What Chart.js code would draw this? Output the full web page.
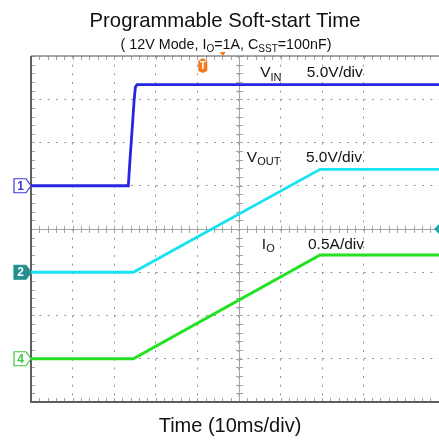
<!DOCTYPE html>
<html>
<head>
<meta charset="utf-8">
<script src="https://cdn.jsdelivr.net/npm/chart.js@4.4.0/dist/chart.umd.min.js"></script>
<style>
  html, body { margin: 0; padding: 0; background: #fff; }
  #wrap { width: 439px; height: 440px; }
</style>
</head>
<body>
<div id="wrap"><canvas id="scope" width="439" height="440"></canvas></div>
<script>
// time in ms, 10 ms/div; the screen shot is cut at ~9.8 div
const timeMax = 98.1;

// CH1 - VIN (V)
const vinTime = [0, 23.4, 23.8, 24.3, 24.8, 25.1, 25.5, 98.1];
const vinVolts = [0, 0, 3.0, 6.4, 9.9, 11.4, 11.7, 11.7];

// CH2 - VOUT (V)
const voutTime = [0, 24.6, 69.5, 98.1];
const voutVolts = [0, 0, 11.9, 11.9];

// CH4 - IO (A)
const ioTime = [0, 24.6, 69.5, 98.1];
const ioAmps = [0, 0, 1.2, 1.2];

// per channel: units per div and ground level (div from centre)
const chNames = ['1', '2', '4'];
const chScale = [5.0, 5.0, 0.5];
const chOffset = [1, -1, -3];
const chColor = ['#2626e4', '#18e2f2', '#22e022'];

const trigTime = 41.3;   // orange T marker
const trigLevel = 0;     // cyan marker on right edge (div)

function toDiv(times, vals, ch) {
  return times.map((t, i) => ({ x: t, y: chOffset[ch] + vals[i] / chScale[ch] }));
}

// text with subscripts: parts = [[text, isSub], ...]
function drawParts(ctx, parts, x, y, size, align) {
  const big = size + 'px "Liberation Sans", Arial, sans-serif';
  const small = Math.round(size * 0.72) + 'px "Liberation Sans", Arial, sans-serif';
  let w = 0;
  parts.forEach(p => { ctx.font = p[1] ? small : big; w += ctx.measureText(p[0]).width; });
  let cx = align === 'center' ? x - w / 2 : x;
  ctx.textAlign = 'left';
  ctx.textBaseline = 'alphabetic';
  parts.forEach(p => {
    ctx.font = p[1] ? small : big;
    ctx.fillText(p[0], cx, p[1] ? y + size * 0.22 : y);
    cx += ctx.measureText(p[0]).width;
  });
}

const scopePlugin = {
  id: 'scope',
  beforeDatasetsDraw(chart) {
    const { ctx, chartArea: a, scales: { x, y } } = chart;
    const cx = x.getPixelForValue(50);
    const cy = y.getPixelForValue(0);
    ctx.save();
    // centre cross
    ctx.strokeStyle = '#a4a4a4';
    ctx.lineWidth = 1;
    ctx.beginPath();
    ctx.moveTo(a.left, Math.round(cy) + 0.5); ctx.lineTo(a.right, Math.round(cy) + 0.5);
    ctx.moveTo(Math.round(cx) + 0.5, a.top); ctx.lineTo(Math.round(cx) + 0.5, a.bottom);
    for (let t = 0; t <= timeMax; t += 2) {
      const px = Math.round(x.getPixelForValue(t)) + 0.5;
      ctx.moveTo(px, cy - 3); ctx.lineTo(px, cy + 4);
      ctx.moveTo(px, a.bottom); ctx.lineTo(px, a.bottom - 4);
      ctx.moveTo(px, a.top); ctx.lineTo(px, a.top + 4);
    }
    for (let d = -4; d <= 4.001; d += 0.2) {
      const py = Math.round(y.getPixelForValue(d)) + 0.5;
      ctx.moveTo(cx - 3, py); ctx.lineTo(cx + 4, py);
      ctx.moveTo(a.left, py); ctx.lineTo(a.left + 4, py);
    }
    ctx.stroke();
    // frame
    ctx.strokeStyle = '#8a8a8a';
    ctx.lineWidth = 1.5;
    ctx.beginPath();
    ctx.moveTo(a.right, a.top); ctx.lineTo(a.left, a.top);
    ctx.stroke();
    ctx.strokeStyle = '#5e5e5e';
    ctx.lineWidth = 2;
    ctx.beginPath();
    ctx.moveTo(a.left, a.top); ctx.lineTo(a.left, a.bottom); ctx.lineTo(a.right, a.bottom);
    ctx.stroke();
    ctx.restore();
  },
  afterDraw(chart) {
    const { ctx, chartArea: a, scales: { x, y } } = chart;
    ctx.save();
    ctx.fillStyle = '#111';
    // titles
    drawParts(ctx, [['Programmable Soft-start Time', false]], 225, 27, 20.3, 'center');
    drawParts(ctx, [['( 12V Mode, I', false], ['O', true], ['=1A, C', false], ['SST', true], ['=100nF)', false]], 226, 49, 14.3, 'center');
    drawParts(ctx, [['Time (10ms/div)', false]], 230, 432, 20, 'center');

    // channel labels
    drawParts(ctx, [['V', false], ['IN', true]], x.getPixelForValue(55.1), y.getPixelForValue(3.51), 15.5, 'left');
    drawParts(ctx, [['5.0V/div', false]], x.getPixelForValue(66.3), y.getPixelForValue(3.51), 15.5, 'left');
    drawParts(ctx, [['V', false], ['OUT', true]], x.getPixelForValue(51.9), y.getPixelForValue(1.55), 15.5, 'left');
    drawParts(ctx, [['5.0V/div', false]], x.getPixelForValue(66.1), y.getPixelForValue(1.55), 15.5, 'left');
    drawParts(ctx, [['I', false], ['O', true]], x.getPixelForValue(55.5), y.getPixelForValue(-0.46), 15.5, 'left');
    drawParts(ctx, [['0.5A/div', false]], x.getPixelForValue(66.6), y.getPixelForValue(-0.46), 15.5, 'left');

    // ground markers on the left
    chNames.forEach((n, i) => {
      const py = y.getPixelForValue(chOffset[i]);
      const tip = a.left;
      const filled = i === 1;
      const col = i === 1 ? '#23908f' : (i === 0 ? '#3a3ad8' : '#3cc83c');
      ctx.beginPath();
      ctx.moveTo(tip - 17, py - 7); ctx.lineTo(tip - 5, py - 7); ctx.lineTo(tip, py);
      ctx.lineTo(tip - 5, py + 7); ctx.lineTo(tip - 17, py + 7); ctx.closePath();
      ctx.fillStyle = filled ? col : '#fff';
      ctx.fill();
      ctx.strokeStyle = col;
      ctx.lineWidth = 1.2;
      ctx.stroke();
      ctx.fillStyle = filled ? '#fff' : col;
      ctx.font = 'bold 12px "Liberation Sans", Arial, sans-serif';
      ctx.textAlign = 'center';
      ctx.textBaseline = 'middle';
      ctx.fillText(n, tip - 10.5, py + 0.5);
    });

    // trigger position marker
    const tx = x.getPixelForValue(trigTime);
    ctx.fillStyle = '#f07a1c';
    ctx.beginPath();
    ctx.moveTo(tx - 4.5, a.top + 5); ctx.lineTo(tx, a.top + 2); ctx.lineTo(tx + 4.5, a.top + 5);
    ctx.lineTo(tx + 4.5, a.top + 15); ctx.lineTo(tx, a.top + 17); ctx.lineTo(tx - 4.5, a.top + 15); ctx.closePath();
    ctx.fill();
    const tx2 = x.getPixelForValue(trigTime + 4.8);
    ctx.beginPath();
    ctx.moveTo(tx2 - 3, a.top - 4); ctx.lineTo(tx2 + 3, a.top - 4); ctx.lineTo(tx2, a.top); ctx.closePath();
    ctx.fill();
    ctx.fillStyle = '#fff';
    ctx.font = 'bold 10px "Liberation Sans", Arial, sans-serif';
    ctx.textAlign = 'center';
    ctx.textBaseline = 'middle';
    ctx.fillText('T', tx, a.top + 10);

    // trigger level marker
    const ly = y.getPixelForValue(trigLevel);
    ctx.fillStyle = '#1ba8a8';
    ctx.beginPath();
    ctx.moveTo(a.right, ly - 5); ctx.lineTo(a.right - 5, ly); ctx.lineTo(a.right, ly + 5); ctx.closePath();
    ctx.fill();
    ctx.restore();
  }
};

new Chart(document.getElementById('scope'), {
  type: 'line',
  data: {
    datasets: [
      { label: 'VIN', data: toDiv(vinTime, vinVolts, 0), borderColor: chColor[0], borderWidth: 2.8 },
      { label: 'VOUT', data: toDiv(voutTime, voutVolts, 1), borderColor: chColor[1], borderWidth: 2.8 },
      { label: 'IO', data: toDiv(ioTime, ioAmps, 2), borderColor: chColor[2], borderWidth: 3 }
    ]
  },
  options: {
    responsive: false,
    animation: false,
    layout: { padding: { left: 31, top: 56, right: 0, bottom: 38 } },
    elements: { point: { radius: 0 }, line: { tension: 0, fill: false } },
    plugins: { legend: { display: false }, tooltip: { enabled: false } },
    scales: {
      x: {
        type: 'linear', min: 0, max: timeMax,
        afterBuildTicks: s => { s.ticks = s.ticks.filter(t => t.value % 10 === 0 && t.value > 0); },
        ticks: { display: false, stepSize: 10 },
        grid: { color: '#949494', drawTicks: false, lineWidth: 1 },
        border: { display: false, dash: [2, 6.65] }
      },
      y: {
        min: -4, max: 4,
        ticks: { display: false, stepSize: 1 },
        grid: { color: '#949494', drawTicks: false, lineWidth: 1 },
        border: { display: false, dash: [2, 6.32] }
      }
    }
  },
  plugins: [scopePlugin]
});
</script>
</body>
</html>
